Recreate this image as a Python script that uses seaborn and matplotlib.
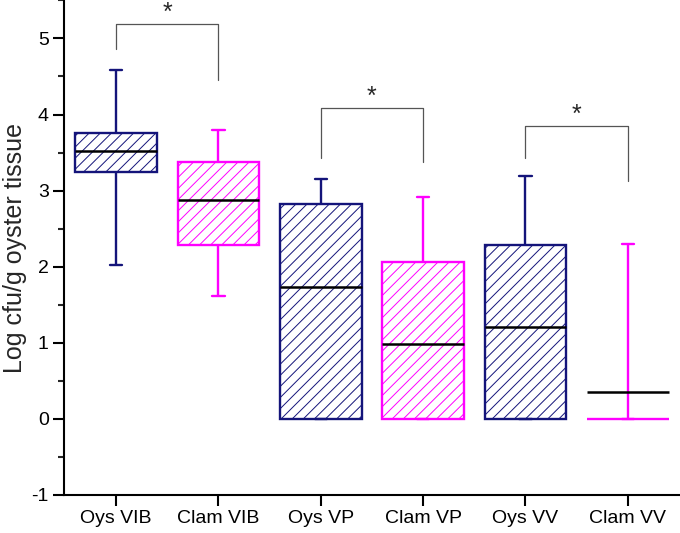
import numpy as np
import pandas as pd
import matplotlib
matplotlib.use('Agg')
import matplotlib.pyplot as plt
from matplotlib.ticker import MultipleLocator
import seaborn as sns

# box statistics (log cfu/g)
groups = ['Oys VIB', 'Clam VIB', 'Oys VP', 'Clam VP', 'Oys VV', 'Clam VV']
whisker_low = [2.02, 1.61, 0.0, 0.0, 0.0, 0.0]
q1 = [3.25, 2.29, 0.0, 0.0, 0.0, 0.0]
median = [3.52, 2.88, 1.73, 0.99, 1.21, 0.35]
q3 = [3.76, 3.38, 2.82, 2.06, 2.29, 0.0]
whisker_high = [4.58, 3.80, 3.15, 2.92, 3.19, 2.30]

# significance brackets: (left group, right group, top, left leg end, right leg end)
brackets = [(0, 1, 5.19, 4.86, 4.45), (2, 3, 4.09, 3.43, 3.37), (4, 5, 3.85, 3.43, 3.12)]

navy = '#14147a'
magenta = '#ff00ff'
colors = [navy, magenta] * 3

sns.set_style('ticks')
plt.rcParams['font.family'] = ['Liberation Sans', 'DejaVu Sans']
plt.rcParams['hatch.linewidth'] = 0.7
plt.rcParams['axes.unicode_minus'] = False

# five points per group so that min/q1/median/q3/max give the box
rows = []
for i, g in enumerate(groups):
    mid = min(max(median[i], q1[i]), q3[i])
    for v in [whisker_low[i], q1[i], mid, q3[i], whisker_high[i]]:
        rows.append({'group': g, 'value': v})
df = pd.DataFrame(rows)

fig = plt.figure(figsize=(6.8, 5.33), dpi=100)
ax = fig.add_axes([0.094, 0.0713, 0.906, 0.928])

sns.boxplot(data=df, x='group', y='value', hue='group', palette=colors,
            width=0.8, whis=(0, 100), linewidth=1.7, showfliers=False,
            legend=False, ax=ax, capwidths=0.12,
            medianprops={'linewidth': 0})

for i, cont in enumerate(ax.containers):
    c = colors[i]
    for b in cont.boxes:
        b.set_facecolor('white')
        b.set_edgecolor(c)
        b.set_hatch('///')
        b.set_linewidth(1.7)
    for ln in list(cont.whiskers) + list(cont.caps):
        ln.set_color(c)
        ln.set_linewidth(1.7)

# median lines
pos = np.arange(len(groups))
ax.hlines(median, pos - 0.4, pos + 0.4, colors='black', linewidth=1.8, zorder=5)

for a, b, top, la, lb in brackets:
    ax.plot([a, a, b, b], [la, top, top, lb], color='#555555', linewidth=0.9)
    ax.text((a + b) / 2, top + 0.05, '*', ha='center', va='baseline',
            fontsize=18, clip_on=False)

ax.set_xlim(-0.51, 5.51)
ax.set_ylim(-1, 5.5)
ax.yaxis.set_major_locator(MultipleLocator(1))
ax.yaxis.set_minor_locator(MultipleLocator(0.5))
ax.tick_params(axis='both', which='major', direction='out', length=8, width=1.5,
               labelsize=14, pad=3, color='black', labelcolor='black')
ax.tick_params(axis='y', which='minor', direction='out', length=4, width=1.5)
ax.set_xlabel('')
ax.set_ylabel('Log cfu/g oyster tissue', fontsize=18, labelpad=3)
for s in ['top', 'right']:
    ax.spines[s].set_visible(False)
for s in ['left', 'bottom']:
    ax.spines[s].set_linewidth(1.5)
    ax.spines[s].set_color('black')

fig.savefig('out.png', dpi=100)
